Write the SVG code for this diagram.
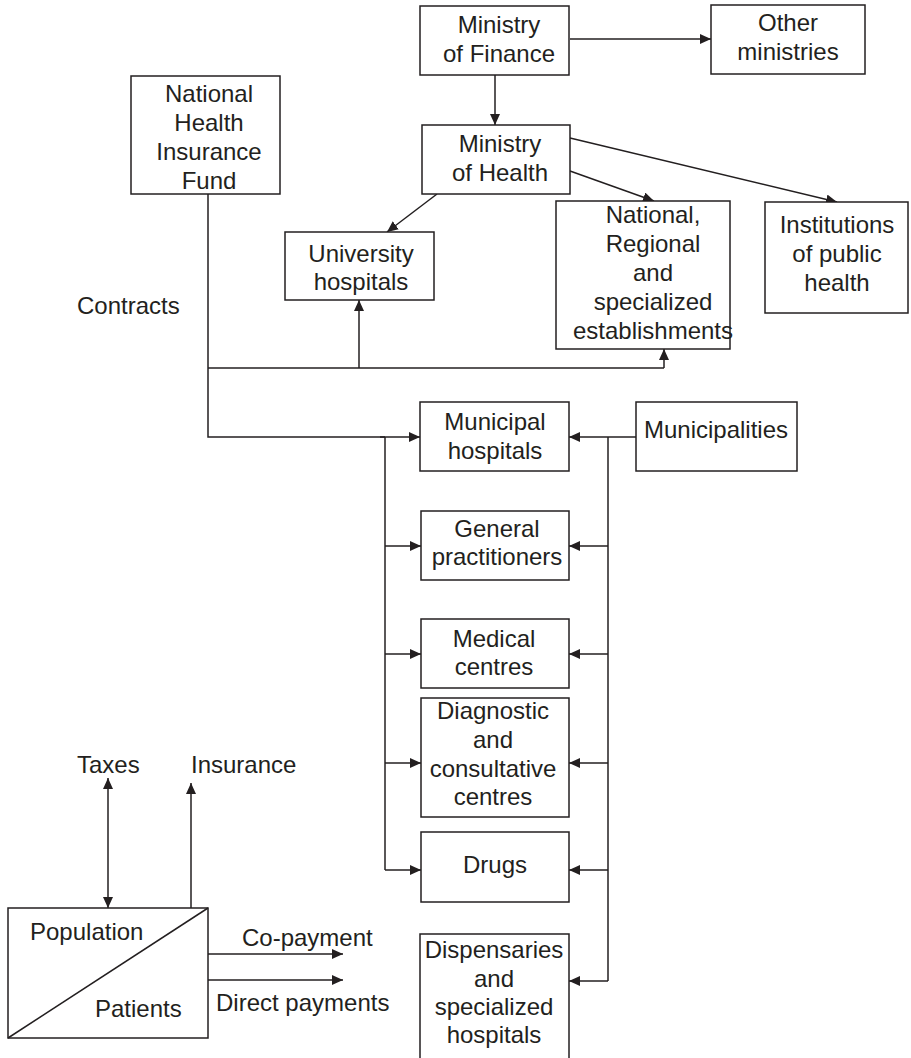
<svg xmlns="http://www.w3.org/2000/svg" width="911" height="1058" viewBox="0 0 911 1058">
<style>
.box{fill:#fff;stroke:#231f20;stroke-width:1.5}
.ln{fill:none;stroke:#231f20;stroke-width:1.5}
.ar{marker-end:url(#ah)}
text{font-family:"Liberation Sans",Arial,sans-serif;font-size:24px;fill:#231f20}
.c{text-anchor:middle}
</style>
<defs>
<marker id="ah" markerUnits="userSpaceOnUse" markerWidth="12" markerHeight="11" refX="11" refY="5" orient="auto-start-reverse" viewBox="0 0 12 11">
<path d="M0,0 L11,5 L0,10 z" fill="#231f20"/>
</marker>
</defs>
<rect width="911" height="1058" fill="#fff"/>
<g id="connectors">
<line class="ln ar" x1="570" y1="39" x2="711" y2="39"/>
<line class="ln ar" x1="495" y1="75" x2="495" y2="125"/>
<line class="ln ar" x1="437" y1="194" x2="387" y2="232"/>
<line class="ln ar" x1="570" y1="171" x2="654" y2="201"/>
<line class="ln ar" x1="570" y1="138" x2="837" y2="202"/>
<polyline class="ln" points="208,194 208,437 385,437"/>
<line class="ln ar" x1="380" y1="437" x2="420" y2="437"/>
<line class="ln" x1="208" y1="368" x2="664" y2="368"/>
<line class="ln ar" x1="359" y1="368" x2="359" y2="300"/>
<line class="ln ar" x1="664" y1="368" x2="664" y2="349"/>
<line class="ln" x1="385" y1="437" x2="385" y2="870"/>
<line class="ln ar" x1="385" y1="546" x2="421" y2="546"/>
<line class="ln ar" x1="385" y1="654" x2="421" y2="654"/>
<line class="ln ar" x1="385" y1="763" x2="421" y2="763"/>
<line class="ln ar" x1="385" y1="870" x2="421" y2="870"/>
<line class="ln ar" x1="636" y1="437" x2="569" y2="437"/>
<line class="ln" x1="608" y1="437" x2="608" y2="981"/>
<line class="ln ar" x1="608" y1="546" x2="569" y2="546"/>
<line class="ln ar" x1="608" y1="654" x2="569" y2="654"/>
<line class="ln ar" x1="608" y1="763" x2="569" y2="763"/>
<line class="ln ar" x1="608" y1="870" x2="569" y2="870"/>
<line class="ln ar" x1="608" y1="981" x2="569" y2="981"/>
<line class="ln ar" x1="108" y1="908" x2="108" y2="778" style="marker-start:url(#ah)"/>
<line class="ln ar" x1="191" y1="908" x2="191" y2="783"/>
<line class="ln ar" x1="208" y1="954" x2="343" y2="954"/>
<line class="ln ar" x1="208" y1="980" x2="343" y2="980"/>
</g>
<g id="ministry-finance"><rect class="box" x="420" y="6" width="149" height="69"/><text class="c" x="499" y="33">Ministry</text><text class="c" x="499" y="62">of Finance</text></g>
<g id="other-ministries"><rect class="box" x="711" y="5" width="154" height="69"/><text class="c" x="788" y="31">Other</text><text class="c" x="788" y="60">ministries</text></g>
<g id="nhif"><rect class="box" x="131" y="76" width="149" height="118"/><text class="c" x="209" y="102">National</text><text class="c" x="209" y="131">Health</text><text class="c" x="209" y="160">Insurance</text><text class="c" x="209" y="189">Fund</text></g>
<g id="ministry-health"><rect class="box" x="422" y="125" width="148" height="69"/><text class="c" x="500" y="152">Ministry</text><text class="c" x="500" y="181">of Health</text></g>
<g id="university"><rect class="box" x="285" y="232" width="149" height="68"/><text class="c" x="361" y="262">University</text><text class="c" x="361" y="290">hospitals</text></g>
<g id="national"><rect class="box" x="556" y="201" width="174" height="148"/><text class="c" x="653" y="223">National,</text><text class="c" x="653" y="252">Regional</text><text class="c" x="653" y="281">and</text><text class="c" x="653" y="310">specialized</text><text class="c" x="653" y="339">establishments</text></g>
<g id="institutions"><rect class="box" x="765" y="202" width="143" height="111"/><text class="c" x="837" y="233">Institutions</text><text class="c" x="837" y="262">of public</text><text class="c" x="837" y="291">health</text></g>
<g id="contracts"><text x="77" y="314">Contracts</text></g>
<g id="municipal-hospitals"><rect class="box" x="420" y="402" width="149" height="69"/><text class="c" x="495" y="430">Municipal</text><text class="c" x="495" y="459">hospitals</text></g>
<g id="municipalities"><rect class="box" x="636" y="402" width="161" height="69"/><text class="c" x="716" y="438">Municipalities</text></g>
<g id="gp"><rect class="box" x="421" y="511" width="148" height="69"/><text class="c" x="497" y="537">General</text><text class="c" x="497" y="565">practitioners</text></g>
<g id="medical"><rect class="box" x="421" y="619" width="148" height="69"/><text class="c" x="494" y="647">Medical</text><text class="c" x="494" y="675">centres</text></g>
<g id="diagnostic"><rect class="box" x="421" y="698" width="148" height="119"/><text class="c" x="493" y="719">Diagnostic</text><text class="c" x="493" y="748">and</text><text class="c" x="493" y="777">consultative</text><text class="c" x="493" y="805">centres</text></g>
<g id="drugs"><rect class="box" x="421" y="832" width="148" height="70"/><text class="c" x="495" y="873">Drugs</text></g>
<g id="dispensaries"><rect class="box" x="420" y="934" width="149" height="140"/><text class="c" x="494" y="958">Dispensaries</text><text class="c" x="494" y="987">and</text><text class="c" x="494" y="1015">specialized</text><text class="c" x="494" y="1043">hospitals</text></g>
<g id="population"><rect class="box" x="8" y="908" width="200" height="130"/><line class="ln" x1="8" y1="1038" x2="208" y2="908"/><text x="30" y="940">Population</text><text x="95" y="1017">Patients</text></g>
<g id="labels"><text x="77" y="773">Taxes</text><text x="191" y="773">Insurance</text><text x="242" y="946">Co-payment</text><text x="216" y="1011">Direct payments</text></g>
</svg>
